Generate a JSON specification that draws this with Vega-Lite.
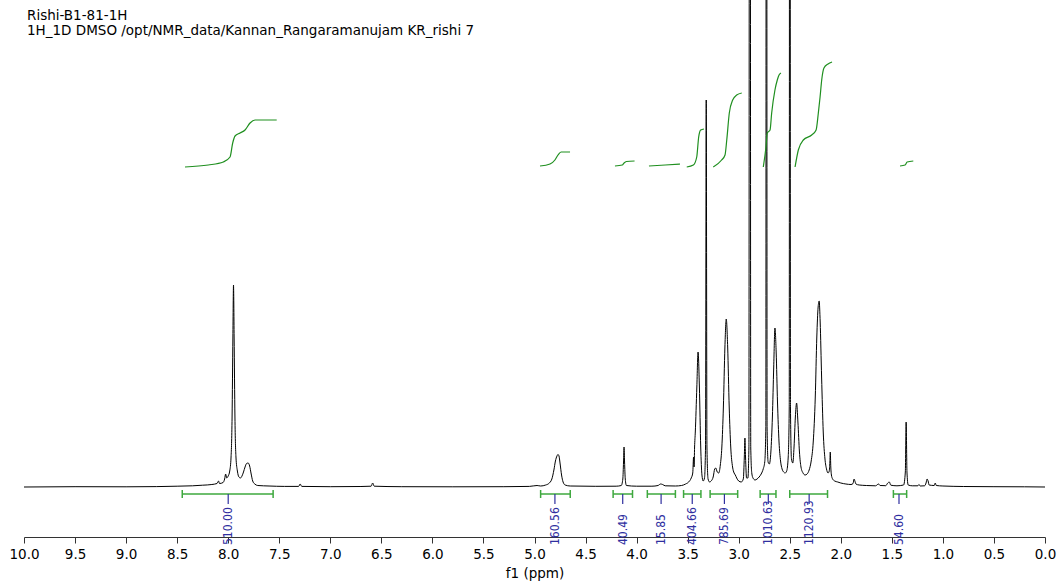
{
  "$schema": "https://vega.github.io/schema/vega-lite/v6.json",
  "width": 1021,
  "height": 537,
  "autosize": "none",
  "padding": {"left": 24, "top": 0, "right": 17, "bottom": 48},
  "background": "white",
  "config": {"view": {"stroke": null}},
  "title": {
    "text": ["Rishi-B1-81-1H", "1H_1D DMSO /opt/NMR_data/Kannan_Rangaramanujam KR_rishi 7"],
    "anchor": "start", "frame": "group", "orient": "top", "offset": -37,
    "font": "DejaVu Sans", "fontSize": 13.5, "fontWeight": "normal", "lineHeight": 14.5, "color": "#000", "dx": 3
  },
  "datasets": {
    "spectrum": [
      {"ppm": 10.0, "v": 0}, {"ppm": 9.5, "v": 0.3}, {"ppm": 9.0, "v": 0.2}, {"ppm": 8.7, "v": 0.4}, {"ppm": 8.5, "v": 0.8},
      {"ppm": 8.35, "v": 1.2}, {"ppm": 8.25, "v": 1.8}, {"ppm": 8.16, "v": 2.5}, {"ppm": 8.11, "v": 3.5}, {"ppm": 8.095, "v": 6},
      {"ppm": 8.085, "v": 3.5}, {"ppm": 8.05, "v": 4.5}, {"ppm": 8.035, "v": 8}, {"ppm": 8.025, "v": 13}, {"ppm": 8.015, "v": 9},
      {"ppm": 8.0, "v": 11}, {"ppm": 7.985, "v": 16}, {"ppm": 7.972, "v": 30}, {"ppm": 7.962, "v": 70}, {"ppm": 7.954, "v": 150},
      {"ppm": 7.948, "v": 202}, {"ppm": 7.942, "v": 150}, {"ppm": 7.934, "v": 70}, {"ppm": 7.924, "v": 30}, {"ppm": 7.91, "v": 16},
      {"ppm": 7.895, "v": 10}, {"ppm": 7.88, "v": 9}, {"ppm": 7.865, "v": 11}, {"ppm": 7.85, "v": 15}, {"ppm": 7.835, "v": 20},
      {"ppm": 7.82, "v": 23.5}, {"ppm": 7.805, "v": 24}, {"ppm": 7.79, "v": 21}, {"ppm": 7.775, "v": 13}, {"ppm": 7.76, "v": 6},
      {"ppm": 7.74, "v": 3}, {"ppm": 7.71, "v": 1.5}, {"ppm": 7.6, "v": 1}, {"ppm": 7.45, "v": 0.6}, {"ppm": 7.31, "v": 0.6},
      {"ppm": 7.295, "v": 3}, {"ppm": 7.28, "v": 0.6}, {"ppm": 7.0, "v": 0.3}, {"ppm": 6.7, "v": 0.5}, {"ppm": 6.6, "v": 0.8},
      {"ppm": 6.585, "v": 4}, {"ppm": 6.57, "v": 0.8}, {"ppm": 6.3, "v": 0.3}, {"ppm": 5.8, "v": 0.2}, {"ppm": 5.3, "v": 0.3},
      {"ppm": 5.05, "v": 0.6}, {"ppm": 4.975, "v": 1.5}, {"ppm": 4.94, "v": 1}, {"ppm": 4.89, "v": 2}, {"ppm": 4.86, "v": 3.5},
      {"ppm": 4.83, "v": 8}, {"ppm": 4.81, "v": 17}, {"ppm": 4.795, "v": 26}, {"ppm": 4.78, "v": 31}, {"ppm": 4.77, "v": 32.5},
      {"ppm": 4.76, "v": 31}, {"ppm": 4.75, "v": 24}, {"ppm": 4.735, "v": 12}, {"ppm": 4.72, "v": 5}, {"ppm": 4.7, "v": 2},
      {"ppm": 4.65, "v": 1}, {"ppm": 4.4, "v": 0.7}, {"ppm": 4.2, "v": 0.8}, {"ppm": 4.15, "v": 1.5}, {"ppm": 4.135, "v": 8},
      {"ppm": 4.128, "v": 25}, {"ppm": 4.123, "v": 40}, {"ppm": 4.118, "v": 25}, {"ppm": 4.111, "v": 8}, {"ppm": 4.1, "v": 1.5},
      {"ppm": 4.0, "v": 0.8}, {"ppm": 3.85, "v": 0.8}, {"ppm": 3.79, "v": 1.5}, {"ppm": 3.765, "v": 3}, {"ppm": 3.745, "v": 2.5},
      {"ppm": 3.72, "v": 1.2}, {"ppm": 3.62, "v": 1}, {"ppm": 3.56, "v": 1.5}, {"ppm": 3.52, "v": 3}, {"ppm": 3.49, "v": 5},
      {"ppm": 3.465, "v": 9}, {"ppm": 3.45, "v": 14}, {"ppm": 3.442, "v": 30}, {"ppm": 3.437, "v": 20}, {"ppm": 3.432, "v": 40},
      {"ppm": 3.425, "v": 55}, {"ppm": 3.41, "v": 100}, {"ppm": 3.398, "v": 135}, {"ppm": 3.385, "v": 100}, {"ppm": 3.372, "v": 40},
      {"ppm": 3.36, "v": 12}, {"ppm": 3.348, "v": 6}, {"ppm": 3.335, "v": 9}, {"ppm": 3.325, "v": 40}, {"ppm": 3.318, "v": 387},
      {"ppm": 3.311, "v": 40}, {"ppm": 3.3, "v": 8}, {"ppm": 3.285, "v": 5}, {"ppm": 3.27, "v": 6}, {"ppm": 3.25, "v": 10},
      {"ppm": 3.235, "v": 18}, {"ppm": 3.225, "v": 19}, {"ppm": 3.21, "v": 15}, {"ppm": 3.195, "v": 14}, {"ppm": 3.18, "v": 22},
      {"ppm": 3.165, "v": 40}, {"ppm": 3.15, "v": 80}, {"ppm": 3.135, "v": 140}, {"ppm": 3.122, "v": 168}, {"ppm": 3.108, "v": 140},
      {"ppm": 3.093, "v": 80}, {"ppm": 3.078, "v": 40}, {"ppm": 3.06, "v": 20}, {"ppm": 3.045, "v": 14}, {"ppm": 3.033, "v": 12},
      {"ppm": 3.02, "v": 9}, {"ppm": 3.0, "v": 6}, {"ppm": 2.975, "v": 5}, {"ppm": 2.955, "v": 8}, {"ppm": 2.945, "v": 30},
      {"ppm": 2.939, "v": 49}, {"ppm": 2.933, "v": 30}, {"ppm": 2.923, "v": 9}, {"ppm": 2.91, "v": 9}, {"ppm": 2.9, "v": 40},
      {"ppm": 2.891, "v": 2000}, {"ppm": 2.882, "v": 40}, {"ppm": 2.872, "v": 14}, {"ppm": 2.86, "v": 9}, {"ppm": 2.84, "v": 7},
      {"ppm": 2.82, "v": 8}, {"ppm": 2.8, "v": 10}, {"ppm": 2.78, "v": 13}, {"ppm": 2.76, "v": 18}, {"ppm": 2.745, "v": 25},
      {"ppm": 2.734, "v": 60}, {"ppm": 2.728, "v": 2000}, {"ppm": 2.722, "v": 60}, {"ppm": 2.712, "v": 25}, {"ppm": 2.7, "v": 23},
      {"ppm": 2.685, "v": 35}, {"ppm": 2.67, "v": 70}, {"ppm": 2.657, "v": 120}, {"ppm": 2.645, "v": 159}, {"ppm": 2.633, "v": 135},
      {"ppm": 2.62, "v": 85}, {"ppm": 2.605, "v": 45}, {"ppm": 2.59, "v": 26}, {"ppm": 2.575, "v": 18}, {"ppm": 2.56, "v": 15},
      {"ppm": 2.545, "v": 14}, {"ppm": 2.53, "v": 16}, {"ppm": 2.515, "v": 30}, {"ppm": 2.505, "v": 80}, {"ppm": 2.499, "v": 2000},
      {"ppm": 2.493, "v": 80}, {"ppm": 2.483, "v": 28}, {"ppm": 2.47, "v": 24}, {"ppm": 2.458, "v": 40}, {"ppm": 2.445, "v": 70},
      {"ppm": 2.433, "v": 84}, {"ppm": 2.42, "v": 65}, {"ppm": 2.405, "v": 35}, {"ppm": 2.39, "v": 20}, {"ppm": 2.37, "v": 14},
      {"ppm": 2.35, "v": 12}, {"ppm": 2.33, "v": 13}, {"ppm": 2.31, "v": 17}, {"ppm": 2.29, "v": 26}, {"ppm": 2.27, "v": 45},
      {"ppm": 2.25, "v": 90}, {"ppm": 2.235, "v": 150}, {"ppm": 2.222, "v": 180}, {"ppm": 2.212, "v": 186}, {"ppm": 2.202, "v": 165},
      {"ppm": 2.188, "v": 110}, {"ppm": 2.172, "v": 55}, {"ppm": 2.155, "v": 28}, {"ppm": 2.14, "v": 18}, {"ppm": 2.125, "v": 14},
      {"ppm": 2.113, "v": 16}, {"ppm": 2.107, "v": 25}, {"ppm": 2.103, "v": 35}, {"ppm": 2.098, "v": 20}, {"ppm": 2.092, "v": 12},
      {"ppm": 2.08, "v": 8}, {"ppm": 2.06, "v": 6}, {"ppm": 2.03, "v": 5}, {"ppm": 2.0, "v": 4}, {"ppm": 1.95, "v": 3},
      {"ppm": 1.9, "v": 2.5}, {"ppm": 1.88, "v": 3.5}, {"ppm": 1.87, "v": 8}, {"ppm": 1.862, "v": 6}, {"ppm": 1.852, "v": 3},
      {"ppm": 1.82, "v": 2}, {"ppm": 1.75, "v": 1.5}, {"ppm": 1.66, "v": 1.2}, {"ppm": 1.63, "v": 3}, {"ppm": 1.615, "v": 1.5},
      {"ppm": 1.56, "v": 1.3}, {"ppm": 1.54, "v": 4}, {"ppm": 1.525, "v": 5}, {"ppm": 1.51, "v": 1.8}, {"ppm": 1.45, "v": 1.2},
      {"ppm": 1.385, "v": 2}, {"ppm": 1.368, "v": 15}, {"ppm": 1.36, "v": 65}, {"ppm": 1.352, "v": 15}, {"ppm": 1.34, "v": 2},
      {"ppm": 1.3, "v": 1.2}, {"ppm": 1.245, "v": 1.2}, {"ppm": 1.235, "v": 2.5}, {"ppm": 1.222, "v": 1}, {"ppm": 1.18, "v": 1.2},
      {"ppm": 1.165, "v": 4}, {"ppm": 1.155, "v": 8}, {"ppm": 1.145, "v": 6}, {"ppm": 1.135, "v": 2}, {"ppm": 1.085, "v": 1.5},
      {"ppm": 1.075, "v": 4}, {"ppm": 1.065, "v": 1.5}, {"ppm": 1.0, "v": 1}, {"ppm": 0.8, "v": 0.5}, {"ppm": 0.5, "v": 0.3},
      {"ppm": 0.2, "v": 0.2}, {"ppm": 0.0, "v": 0}
    ],
    "integrals": [
      {"seg": "A", "ppm": 8.423, "v": 320}, {"seg": "A", "ppm": 8.195, "v": 322}, {"seg": "A", "ppm": 8.048, "v": 325},
      {"seg": "A", "ppm": 7.982, "v": 330}, {"seg": "A", "ppm": 7.956, "v": 344}, {"seg": "A", "ppm": 7.933, "v": 351},
      {"seg": "A", "ppm": 7.884, "v": 354}, {"seg": "A", "ppm": 7.835, "v": 357}, {"seg": "A", "ppm": 7.786, "v": 364},
      {"seg": "A", "ppm": 7.737, "v": 367}, {"seg": "A", "ppm": 7.525, "v": 367},
      {"seg": "B", "ppm": 4.946, "v": 321}, {"seg": "B", "ppm": 4.848, "v": 323}, {"seg": "B", "ppm": 4.8, "v": 327},
      {"seg": "B", "ppm": 4.77, "v": 332}, {"seg": "B", "ppm": 4.74, "v": 335}, {"seg": "B", "ppm": 4.652, "v": 335},
      {"seg": "C", "ppm": 4.212, "v": 321}, {"seg": "C", "ppm": 4.14, "v": 322}, {"seg": "C", "ppm": 4.123, "v": 324},
      {"seg": "C", "ppm": 4.1, "v": 325.5}, {"seg": "C", "ppm": 4.02, "v": 326},
      {"seg": "D", "ppm": 3.879, "v": 321}, {"seg": "D", "ppm": 3.72, "v": 322}, {"seg": "D", "ppm": 3.575, "v": 323},
      {"seg": "E", "ppm": 3.509, "v": 320}, {"seg": "E", "ppm": 3.444, "v": 322}, {"seg": "E", "ppm": 3.411, "v": 330},
      {"seg": "E", "ppm": 3.392, "v": 350}, {"seg": "E", "ppm": 3.372, "v": 357}, {"seg": "E", "ppm": 3.34, "v": 358},
      {"seg": "F", "ppm": 3.249, "v": 320}, {"seg": "F", "ppm": 3.167, "v": 327}, {"seg": "F", "ppm": 3.134, "v": 332},
      {"seg": "F", "ppm": 3.117, "v": 347}, {"seg": "F", "ppm": 3.092, "v": 374}, {"seg": "F", "ppm": 3.059, "v": 387},
      {"seg": "F", "ppm": 3.02, "v": 392}, {"seg": "F", "ppm": 2.97, "v": 394},
      {"seg": "G", "ppm": 2.759, "v": 320}, {"seg": "G", "ppm": 2.733, "v": 340}, {"seg": "G", "ppm": 2.72, "v": 354},
      {"seg": "G", "ppm": 2.693, "v": 357}, {"seg": "G", "ppm": 2.677, "v": 374}, {"seg": "G", "ppm": 2.645, "v": 397},
      {"seg": "G", "ppm": 2.622, "v": 407}, {"seg": "G", "ppm": 2.605, "v": 412}, {"seg": "G", "ppm": 2.586, "v": 414},
      {"seg": "H", "ppm": 2.448, "v": 320}, {"seg": "H", "ppm": 2.416, "v": 337}, {"seg": "H", "ppm": 2.367, "v": 347},
      {"seg": "H", "ppm": 2.285, "v": 352}, {"seg": "H", "ppm": 2.242, "v": 357}, {"seg": "H", "ppm": 2.22, "v": 374},
      {"seg": "H", "ppm": 2.203, "v": 390}, {"seg": "H", "ppm": 2.187, "v": 407}, {"seg": "H", "ppm": 2.165, "v": 419},
      {"seg": "H", "ppm": 2.125, "v": 423}, {"seg": "H", "ppm": 2.086, "v": 425},
      {"seg": "I", "ppm": 1.42, "v": 321}, {"seg": "I", "ppm": 1.37, "v": 322}, {"seg": "I", "ppm": 1.35, "v": 325},
      {"seg": "I", "ppm": 1.29, "v": 326}
    ],
    "ranges": [
      {"from": 8.45, "to": 7.56, "mid": 8.0, "label": "510.00"},
      {"from": 4.94, "to": 4.65, "mid": 4.8, "label": "160.56"},
      {"from": 4.23, "to": 4.04, "mid": 4.136, "label": "40.49"},
      {"from": 3.895, "to": 3.62, "mid": 3.76, "label": "15.85"},
      {"from": 3.54, "to": 3.37, "mid": 3.455, "label": "404.66"},
      {"from": 3.28, "to": 3.01, "mid": 3.14, "label": "785.69"},
      {"from": 2.79, "to": 2.635, "mid": 2.71, "label": "1010.63"},
      {"from": 2.5, "to": 2.13, "mid": 2.31, "label": "1120.93"},
      {"from": 1.485, "to": 1.355, "mid": 1.43, "label": "54.60"}
    ]
  },
  "layer": [
    {
      "data": {"name": "spectrum"},
      "mark": {"type": "line", "color": "#000000", "strokeWidth": 1, "clip": true, "interpolate": "monotone"},
      "encoding": {
        "x": {
          "field": "ppm", "type": "quantitative", "title": "f1 (ppm)",
          "scale": {"domain": [0, 10], "reverse": true, "nice": false, "zero": false},
          "axis": {
            "title": "f1 (ppm)",
            "values": [10, 9.75, 9.5, 9.25, 9, 8.75, 8.5, 8.25, 8, 7.75, 7.5, 7.25, 7, 6.75, 6.5, 6.25, 6, 5.75, 5.5, 5.25, 5, 4.75, 4.5, 4.25, 4, 3.75, 3.5, 3.25, 3, 2.75, 2.5, 2.25, 2, 1.75, 1.5, 1.25, 1, 0.75, 0.5, 0.25, 0],
            "labelExpr": "abs(datum.value*2 - round(datum.value*2)) < 0.01 ? format(datum.value, '.1f') : ''",
            "tickSize": {"condition": {"test": "abs(datum.value*2 - round(datum.value*2)) < 0.01", "value": 6}, "value": 3},
            "grid": false, "labelFlush": false, "labelOverlap": false,
            "labelFont": "DejaVu Sans", "labelFontSize": 13.5, "labelColor": "#000000", "labelPadding": 4,
            "titleFont": "DejaVu Sans", "titleFontSize": 13.5, "titleFontWeight": "normal", "titleColor": "#000000", "titlePadding": 6,
            "domainColor": "#333333", "tickColor": "#333333", "domainWidth": 1, "tickWidth": 1
          }
        },
        "y": {"field": "v", "type": "quantitative", "scale": {"domain": [-50, 487], "nice": false, "zero": false}, "axis": null}
      }
    },
    {
      "data": {"name": "integrals"},
      "mark": {"type": "line", "color": "#1f8f1f", "strokeWidth": 1.2, "interpolate": "monotone"},
      "encoding": {
        "x": {"field": "ppm", "type": "quantitative", "title": "f1 (ppm)"},
        "y": {"field": "v", "type": "quantitative"},
        "detail": {"field": "seg"}
      }
    },
    {
      "data": {"name": "ranges"},
      "mark": {"type": "rule", "color": "#3ea83e", "strokeWidth": 1.5},
      "encoding": {
        "x": {"field": "from", "type": "quantitative", "title": "f1 (ppm)"},
        "x2": {"field": "to"},
        "y": {"datum": -7}
      }
    },
    {
      "data": {"name": "ranges"},
      "transform": [{"fold": ["from", "to"], "as": ["end", "pos"]}],
      "mark": {"type": "rule", "color": "#3ea83e", "strokeWidth": 1.5},
      "encoding": {
        "x": {"field": "pos", "type": "quantitative", "title": "f1 (ppm)"},
        "y": {"datum": -3},
        "y2": {"datum": -11}
      }
    },
    {
      "data": {"name": "ranges"},
      "mark": {"type": "rule", "color": "#2f2f9f", "strokeWidth": 1.2},
      "encoding": {
        "x": {"field": "mid", "type": "quantitative", "title": "f1 (ppm)"},
        "y": {"datum": -7},
        "y2": {"datum": -17}
      }
    },
    {
      "data": {"name": "ranges"},
      "mark": {"type": "text", "color": "#2f2f9f", "angle": 270, "align": "left", "baseline": "middle", "font": "DejaVu Sans Condensed, DejaVu Sans", "fontSize": 12},
      "encoding": {
        "x": {"field": "mid", "type": "quantitative", "title": "f1 (ppm)"},
        "y": {"datum": -58},
        "text": {"field": "label"}
      }
    }
  ]
}
